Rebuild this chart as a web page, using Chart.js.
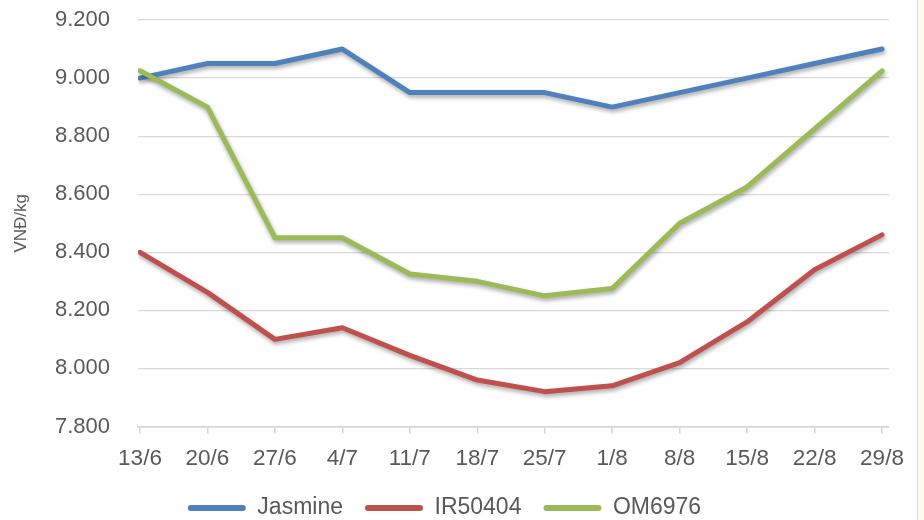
<!DOCTYPE html>
<html>
<head>
<meta charset="utf-8">
<script src="https://cdn.jsdelivr.net/npm/chart.js@4/dist/chart.umd.min.js"></script>
<style>
  html, body { margin: 0; padding: 0; background: #fefbe9; }
  #wrap { position: absolute; left: 0; top: 0; width: 917px; height: 520px; background: #ffffff; border-right: 1px solid #d6d6d6; }
  canvas { display: block; }
</style>
</head>
<body>
<div id="wrap"><canvas id="c" width="917" height="520"></canvas></div>
<script>
const categories = ['13/6','20/6','27/6','4/7','11/7','18/7','25/7','1/8','8/8','15/8','22/8','29/8'];
const jasmine = [9000, 9050, 9050, 9100, 8950, 8950, 8950, 8900, 8950, 9000, 9050, 9100];
const ir50404 = [8400, 8262, 8100, 8140, 8045, 7960, 7920, 7940, 8020, 8160, 8340, 8460];
const om6976  = [9025, 8900, 8450, 8450, 8325, 8300, 8250, 8275, 8500, 8625, 8825, 9025];
const seriesNames = ['Jasmine', 'IR50404', 'OM6976'];
const seriesColors = ['#4f81bd', '#c0504d', '#9bbb59'];
const yMin = 7800, yMax = 9200, yStep = 200;

const toXY = arr => arr.map((v, i) => ({ x: i, y: v }));
const fmt = v => String(v).replace(/\B(?=(\d{3})+(?!\d))/g, '.');

const shadowPlugin = {
  id: 'shadow',
  beforeDatasetDraw(chart) {
    const c = chart.ctx;
    c.save();
    c.shadowColor = 'rgba(0,0,0,0.35)';
    c.shadowBlur = 4;
    c.shadowOffsetX = 1;
    c.shadowOffsetY = 2.5;
  },
  afterDatasetDraw(chart) { chart.ctx.restore(); }
};

const textColor = '#595959';
const fontFam = '"Liberation Sans", Arial, sans-serif';
const datas = [jasmine, ir50404, om6976];

new Chart(document.getElementById('c'), {
  type: 'line',
  data: {
    datasets: datas.map((d, i) => ({
      label: seriesNames[i],
      data: toXY(d),
      borderColor: seriesColors[i],
      backgroundColor: seriesColors[i],
      borderWidth: 5,
      pointRadius: 0,
      tension: 0,
      borderJoinStyle: 'round',
      borderCapStyle: 'round',
      order: 3 - i
    }))
  },
  options: {
    responsive: false,
    animation: false,
    layout: { padding: { top: 20, right: 28, bottom: -9.5, left: 0 } },
    plugins: {
      tooltip: { enabled: false },
      legend: {
        position: 'bottom',
        labels: {
          color: textColor,
          font: { family: fontFam, size: 23 },
          boxWidth: 58,
          boxHeight: 6,
          useBorderRadius: true,
          borderRadius: 3,
          padding: 22,
          sort: (a, b) => a.datasetIndex - b.datasetIndex,
          generateLabels: chart => Chart.defaults.plugins.legend.labels.generateLabels(chart).map(l => Object.assign(l, { lineWidth: 0 }))
        }
      }
    },
    scales: {
      x: {
        type: 'linear',
        min: -0.0297,
        max: 11.1038,
        afterBuildTicks: s => { s.ticks = categories.map((c, i) => ({ value: i })); },
        afterFit: s => { s.height = 48; },
        ticks: {
          color: textColor,
          font: { family: fontFam, size: 22.5 },
          padding: 12,
          maxRotation: 0,
          autoSkip: false,
          callback: v => categories[v]
        },
        grid: { drawOnChartArea: false, drawTicks: true, tickLength: 7, color: '#d4d4d4', lineWidth: 1.5 },
        border: { display: true, color: '#d4d4d4', width: 1.5 }
      },
      y: {
        min: yMin,
        max: yMax,
        afterFit: s => { s.width = 138; },
        ticks: {
          stepSize: yStep,
          color: textColor,
          font: { family: fontFam, size: 22 },
          padding: 0,
          callback: v => fmt(v)
        },
        grid: { drawTicks: true, tickLength: 28, tickColor: 'rgba(0,0,0,0)', color: '#d9d9d9', lineWidth: 1.2 },
        border: { display: false },
        title: {
          display: true,
          text: 'VNĐ/kg',
          color: textColor,
          font: { family: fontFam, size: 17 },
          padding: { top: 11, bottom: 0 }
        }
      }
    }
  },
  plugins: [shadowPlugin]
});
</script>
</body>
</html>
